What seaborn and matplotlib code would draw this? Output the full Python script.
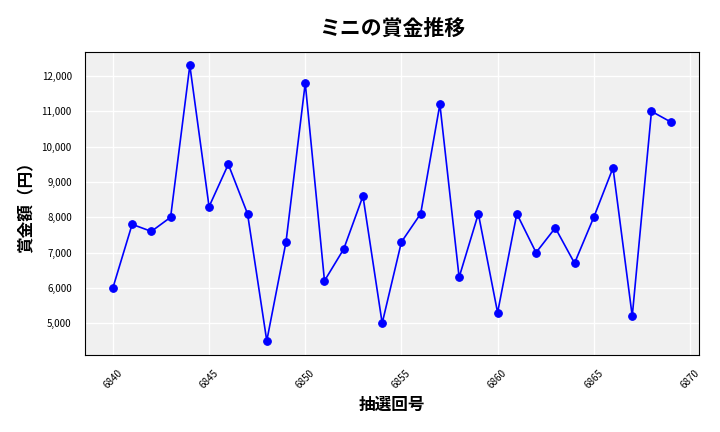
import matplotlib
matplotlib.use("Agg")
import matplotlib.pyplot as plt
import seaborn as sns
import pandas as pd
from matplotlib.ticker import FuncFormatter

draws = list(range(6840, 6870))
prizes = [6000, 7800, 7600, 8000, 12300, 8300, 9500, 8100, 4500, 7300,
          11800, 6200, 7100, 8600, 5000, 7300, 8100, 11200, 6300, 8100,
          5300, 8100, 7000, 7700, 6700, 8000, 9400, 5200, 11000, 10700]

sns.set_theme(style="darkgrid", rc={"axes.facecolor": "#f0f0f0", "grid.color": "white"})
plt.rcParams['font.family'] = ['Noto Sans CJK JP', 'DejaVu Sans']

df = pd.DataFrame({"draw": draws, "prize": prizes})
fig, ax = plt.subplots(figsize=(7.2, 4.32), dpi=100)
sns.lineplot(data=df, x="draw", y="prize", ax=ax, color="blue", marker="o",
             markersize=5.5, markeredgecolor="blue", linewidth=1.2)
ax.set_title("ミニの賞金推移", fontsize=15, fontweight="bold", pad=12, color="black")
ax.set_xlabel("抽選回号", fontsize=12, fontweight="bold", color="black")
ax.set_ylabel("賞金額（円）", fontsize=12, fontweight="bold", color="black")
ax.yaxis.set_major_formatter(FuncFormatter(lambda v, p: f"{int(v):,}"))
ax.tick_params(axis="x", labelrotation=45, labelsize=7, colors="black")
ax.tick_params(axis="y", labelsize=7, colors="black")
for s in ax.spines.values():
    s.set_visible(True); s.set_color("black"); s.set_linewidth(0.8)
fig.tight_layout()
fig.savefig("out.png")
